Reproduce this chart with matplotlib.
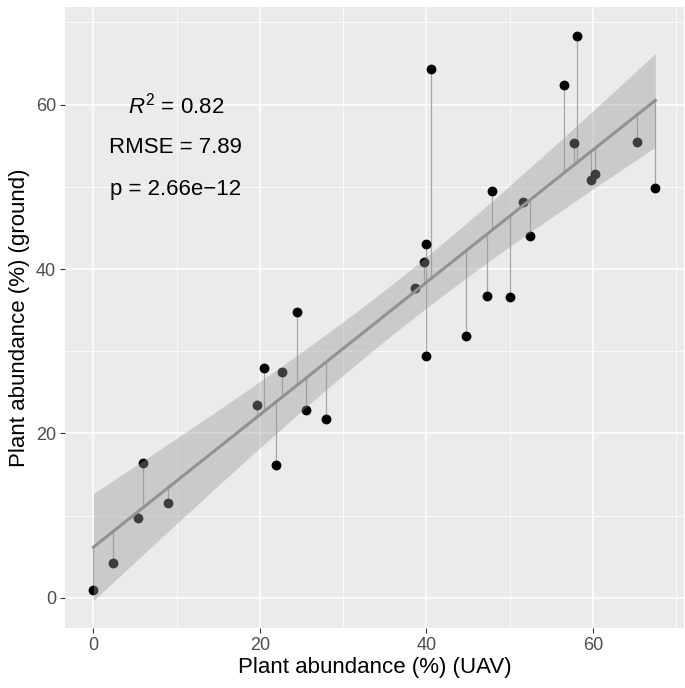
import numpy as np
import matplotlib
matplotlib.use("Agg")
import matplotlib.pyplot as plt

# ------------------------------------------------------------
# DATA
# ------------------------------------------------------------
uav = [0.0, 2.4, 5.4, 5.96, 9.0, 19.6, 20.5, 21.9, 22.7, 24.4, 25.5, 27.9,
       38.6, 39.7, 40.0, 39.9, 40.5, 44.8, 47.3, 47.9, 50.0, 51.6, 52.4,
       56.5, 57.7, 58.1, 59.8, 60.2, 65.3, 67.5]
ground = [0.9, 4.2, 9.7, 16.4, 11.5, 23.5, 28.0, 16.1, 27.5, 34.8, 22.8, 21.7,
          37.7, 40.9, 43.1, 29.4, 64.4, 31.9, 36.7, 49.5, 36.6, 48.2, 44.0,
          62.4, 55.3, 68.4, 50.8, 51.6, 55.4, 49.8]
ticks = [0, 20, 40, 60]
minor = [10, 30, 50, 70]
stats_text = ["$R^2$ = 0.82", "RMSE = 7.89", "p = 2.66e\u221212"]
t_crit = 2.05  # 95% two-sided, df ~ 28

# ------------------------------------------------------------
# FIT + CONFIDENCE BAND
# ------------------------------------------------------------
x = np.array(uav)
y = np.array(ground)
n = len(x)
slope, intercept = np.polyfit(x, y, 1)
fitted = intercept + slope * x
s = np.sqrt(np.sum((y - fitted) ** 2) / (n - 2))
xm = x.mean()
sxx = np.sum((x - xm) ** 2)
xg = np.linspace(x.min(), x.max(), 100)
yg = intercept + slope * xg
se = s * np.sqrt(1 / n + (xg - xm) ** 2 / sxx)

# ------------------------------------------------------------
# PLOT
# ------------------------------------------------------------
plt.rcParams["font.family"] = ["Liberation Sans", "DejaVu Sans"]
plt.rcParams["mathtext.fontset"] = "custom"
plt.rcParams["mathtext.rm"] = "Liberation Sans"
plt.rcParams["mathtext.it"] = "Liberation Sans:italic"

fig = plt.figure(figsize=(6.85, 6.88), dpi=100)
ax = fig.add_axes([0.095, 0.087, 0.903, 0.903])
ax.set_facecolor("#EBEBEB")
for sp in ax.spines.values():
    sp.set_visible(False)

ax.set_xlim(-3.4, 70.9)
ax.set_ylim(-3.7, 71.9)
ax.set_xticks(ticks)
ax.set_yticks(ticks)
ax.set_xticks(minor, minor=True)
ax.set_yticks(minor, minor=True)
ax.grid(which="major", color="white", linewidth=1.1, zorder=0)
ax.grid(which="minor", color="white", linewidth=0.55, zorder=0)
ax.set_axisbelow(True)
ax.tick_params(which="major", length=3.5, width=0.8, color="#333333",
               labelsize=13, labelcolor="#4D4D4D", pad=3)
ax.tick_params(which="minor", length=0)

ax.vlines(x, y, fitted, color="#A6A6A6", linewidth=0.9, zorder=2)
ax.scatter(x, y, s=50, color="black", zorder=3, linewidths=0)
ax.fill_between(xg, yg - t_crit * se, yg + t_crit * se, color="#999999",
                alpha=0.4, linewidth=0, zorder=4)
ax.plot(xg, yg, color="#929292", linewidth=2.2, zorder=5)

for i, txt in enumerate(stats_text):
    ax.text(9.9, 59.9 - i * 5.1, txt, ha="center", va="center", fontsize=16,
            color="black", zorder=6)

ax.set_xlabel("Plant abundance (%) (UAV)", fontsize=16, labelpad=2)
ax.set_ylabel("Plant abundance (%) (ground)", fontsize=16, labelpad=4)

fig.savefig("out.png", dpi=100)
